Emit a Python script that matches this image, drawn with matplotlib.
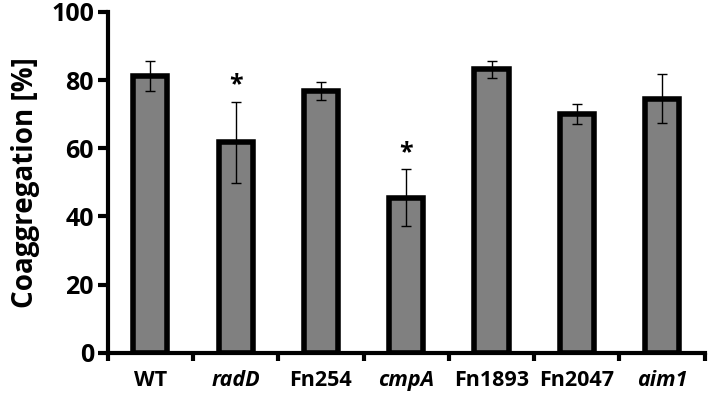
import numpy as np
import matplotlib.pyplot as plt

# data
strains = ['WT', 'radD', 'Fn254', 'cmpA', 'Fn1893', 'Fn2047', 'aim1']
italic = [False, True, False, True, False, False, True]
values = [81.2, 61.8, 76.8, 45.5, 83.2, 70.0, 74.5]
errors = [4.3, 11.9, 2.6, 8.3, 2.5, 3.0, 7.2]
signif = [False, True, False, True, False, False, False]

plt.rcParams['font.family'] = ['Open Sans', 'DejaVu Sans']

fig = plt.figure(figsize=(7.09, 3.96), dpi=100)
ax = fig.add_axes([0.152, 0.109, 0.842, 0.861])

x = np.arange(len(strains))
ax.bar(x, values, width=0.40, color='#808080', edgecolor='black', linewidth=4, zorder=2)
ax.errorbar(x, values, yerr=errors, fmt='none', ecolor='black', elinewidth=1,
            capsize=3.5, capthick=1, zorder=3)

for i in range(len(strains)):
    if signif[i]:
        ax.text(x[i], values[i] + errors[i] + 5, '*', ha='center', va='center',
                fontsize=18, fontweight='bold')

ax.set_xlim(-0.5, len(strains) - 0.5)
ax.set_ylim(0, 100)
ax.set_yticks([0, 20, 40, 60, 80, 100])
ax.set_yticklabels(['0', '20', '40', '60', '80', '100'], fontsize=18, fontweight='bold')

# ticks between categories, labels centred
ax.set_xticks(np.arange(len(strains) + 1) - 0.5)
ax.set_xticklabels([])
ax.set_xticks(x, minor=True)
ax.set_xticklabels(strains, minor=True, fontsize=15.5, fontweight='bold')
for lab, it in zip(ax.get_xticklabels(minor=True), italic):
    if it:
        lab.set_style('italic')
ax.tick_params(axis='x', which='minor', length=0, pad=12)
ax.tick_params(axis='x', which='major', length=6, width=3, direction='out')
ax.tick_params(axis='y', length=7, width=3, direction='out', pad=3)

ax.set_ylabel('Coaggregation [%]', fontsize=20, fontweight='bold', labelpad=8)

for side in ['top', 'right']:
    ax.spines[side].set_visible(False)
for side in ['left', 'bottom']:
    ax.spines[side].set_linewidth(3)

fig.savefig('out.png', dpi=100)
